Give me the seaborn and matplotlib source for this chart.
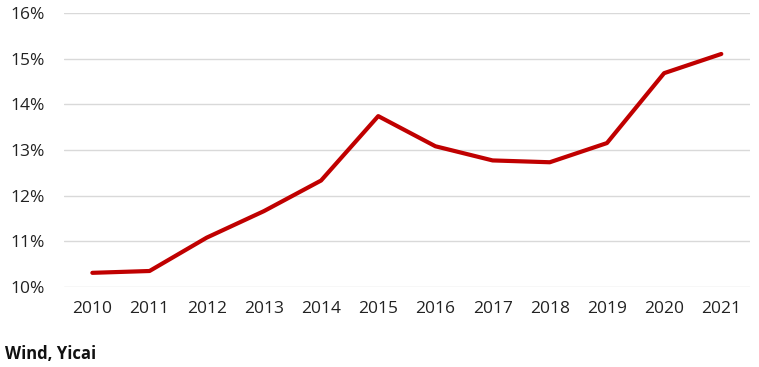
import seaborn as sns
import pandas as pd
import matplotlib.pyplot as plt
from matplotlib.ticker import FuncFormatter

# Data
years = [2010, 2011, 2012, 2013, 2014, 2015, 2016, 2017, 2018, 2019, 2020, 2021]
share = [10.31, 10.35, 11.08, 11.66, 12.33, 13.74, 13.08, 12.77, 12.73, 13.15, 14.68, 15.10]

df = pd.DataFrame({'year': years, 'share': share})

sns.set_theme(style='white')
plt.rcParams['font.family'] = ['Open Sans', 'DejaVu Sans']

fig = plt.figure(figsize=(7.59, 3.67), dpi=100)
ax = fig.add_axes([0.084, 0.218, 0.904, 0.747])

# Line chart, dark red
sns.lineplot(data=df, x='year', y='share', color='#C00000', linewidth=3, ax=ax)

ax.set_xlim(2009.5, 2021.5)
ax.set_ylim(10, 16)
ax.set_xticks(years)
ax.set_yticks(range(10, 17))
ax.yaxis.set_major_formatter(FuncFormatter(lambda v, p: f'{v:.0f}%'))

# Light gray horizontal gridlines only
ax.grid(axis='y', color='#d9d9d9', linewidth=1)
ax.set_axisbelow(True)
for s in ax.spines.values():
    s.set_visible(False)

ax.tick_params(axis='both', length=0, labelsize=12.5, colors='#222222')
ax.tick_params(axis='y', pad=14)
ax.tick_params(axis='x', pad=10)
ax.set_xlabel('')
ax.set_ylabel('')

# Source note
fig.text(0.007, 0.022, 'Wind, Yicai', fontsize=12, fontweight='bold', color='#111111')

fig.savefig('out.png', dpi=100)
